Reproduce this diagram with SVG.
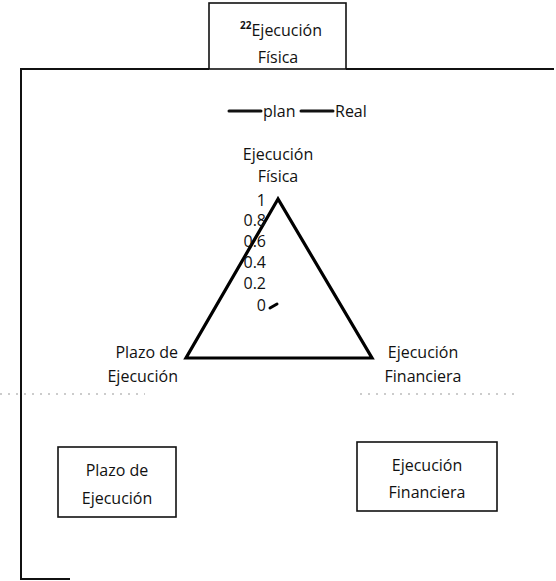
<svg xmlns="http://www.w3.org/2000/svg" width="556" height="581" viewBox="0 0 556 581">
<style>
text{font-family:"Open Sans","Liberation Sans",sans-serif;font-size:16px;fill:#111}
.box{fill:#fff;stroke:#111;stroke-width:1.6}
.frame{fill:none;stroke:#111;stroke-width:2}
.tri{fill:none;stroke:#000;stroke-width:3.2;stroke-linejoin:miter}
.leg{stroke:#111;stroke-width:3;stroke-linecap:round}
.dots{stroke:#999;stroke-width:1;stroke-dasharray:2 6}
</style>
<rect width="556" height="581" fill="#fff"/>
<g id="connectors">
<path class="frame" d="M209,69 H21 V579 H70"/>
<path class="frame" d="M346,69 H554"/>
<path class="dots" d="M0,394 H145 M360,394 H515"/>
</g>
<g id="node-fisica-top">
<rect class="box" x="209" y="3" width="137" height="66"/>
<text x="281" y="36" text-anchor="middle"><tspan font-size="10" font-weight="bold" dy="-7">22</tspan><tspan dy="7">Ejecución</tspan></text>
<text x="278" y="63" text-anchor="middle">Física</text>
</g>
<g id="legend">
<line class="leg" x1="229" y1="111" x2="261" y2="111"/>
<text x="263" y="117">plan</text>
<line class="leg" x1="301" y1="111" x2="333" y2="111"/>
<text x="335" y="117">Real</text>
</g>
<g id="radar">
<polygon class="tri" points="278,199 186,358 372,358"/>
<text x="278" y="160" text-anchor="middle">Ejecución</text>
<text x="278" y="182" text-anchor="middle">Física</text>
<g text-anchor="end">
<text x="266" y="206">1</text>
<text x="266" y="226">0.8</text>
<text x="266" y="247">0.6</text>
<text x="266" y="268">0.4</text>
<text x="266" y="289">0.2</text>
<text x="266" y="311">0</text>
</g>
<line x1="270" y1="308" x2="277" y2="304" stroke="#000" stroke-width="3" stroke-linecap="round"/>
<g text-anchor="end">
<text x="178" y="358">Plazo de</text>
<text x="178" y="382">Ejecución</text>
</g>
<text x="423" y="358" text-anchor="middle">Ejecución</text>
<text x="423" y="382" text-anchor="middle">Financiera</text>
</g>
<g id="node-plazo">
<rect class="box" x="58" y="447" width="118" height="70"/>
<text x="117" y="476" text-anchor="middle">Plazo de</text>
<text x="117" y="504" text-anchor="middle">Ejecución</text>
</g>
<g id="node-financiera">
<rect class="box" x="357" y="442" width="140" height="69"/>
<text x="427" y="471" text-anchor="middle">Ejecución</text>
<text x="427" y="498" text-anchor="middle">Financiera</text>
</g>
</svg>
